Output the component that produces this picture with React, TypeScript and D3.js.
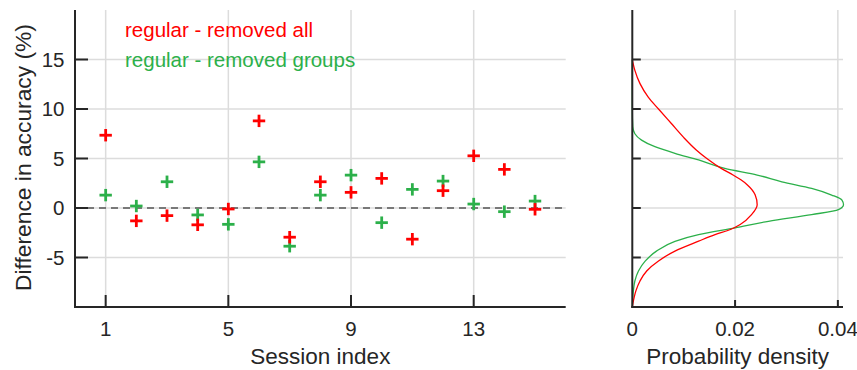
import React from "react";
import * as d3 from "d3";

const sessions = [1, 2, 3, 4, 5, 6, 7, 8, 9, 10, 11, 12, 13, 14, 15];
const removedAll = [7.35, -1.3, -0.77, -1.7, -0.1, 8.8, -2.95, 2.65, 1.58, 2.99, -3.15, 1.75, 5.27, 3.9, -0.13];
const removedGroups = [1.3, 0.2, 2.65, -0.7, -1.65, 4.66, -3.86, 1.3, 3.32, -1.48, 1.88, 2.72, 0.4, -0.37, 0.7];

const xTicks = [1, 5, 9, 13];
const yTicks = [-5, 0, 5, 10, 15];
const densTicks = [0, 0.02, 0.04];
const densTickLabels = ["0", "0.02", "0.04"];

const redDensLevel = [-10, -9.7, -8.37, -7.37, -6.36, -5.35, -4.35, -3.35, -2.69, -2.17, -1.67, -0.67, 0.33, 1.33, 2.33, 2.82, 3.33, 4.0, 5.0, 5.84, 7.18, 8.53, 10, 11.2, 12.56, 13.9, 15];
const redDensValue = [0, 0.0001, 0.0007, 0.0015, 0.0028, 0.0051, 0.0083, 0.0129, 0.0161, 0.0191, 0.021, 0.0232, 0.0243, 0.0239, 0.0224, 0.0212, 0.0196, 0.0173, 0.0145, 0.0125, 0.0099, 0.0076, 0.0051, 0.0031, 0.0015, 0.0005, 0];

const greenDensLevel = [-10, -8.4, -7.37, -6.37, -5.37, -4.36, -3.36, -2.69, -2.0, -1.34, -0.67, -0.17, 0.33, 0.8, 1.31, 1.98, 2.65, 3.33, 4.0, 4.85, 5.52, 6.19, 6.86, 7.5, 8.2, 10, 15];
const greenDensValue = [0, 0.0002, 0.0005, 0.0012, 0.0025, 0.0047, 0.0083, 0.0129, 0.02, 0.0265, 0.0349, 0.0401, 0.0411, 0.0408, 0.0388, 0.0349, 0.0291, 0.0243, 0.018, 0.0129, 0.0083, 0.0044, 0.0018, 0.0005, 0.0001, 0, 0];

const RED = "#ff0000";
const GREEN = "#2cb04a";
const AXIS = "#262626";
const GRID = "#dcdcdc";
const FONT = "'Liberation Sans', Arial, Helvetica, sans-serif";

export default function App() {
  const W = 857, H = 370;
  const top = 10, bottom = 307;
  const L = { x0: 75, x1: 565.7 };
  const R = { x0: 632.3, x1: 843 };

  const x = d3.scaleLinear().domain([0, 16]).range([L.x0, L.x1]);
  const y = d3.scaleLinear().domain([-10, 20]).range([bottom, top]);
  const xd = d3.scaleLinear().domain([0, 0.041]).range([R.x0, R.x1]);

  const lineGen = d3
    .line<[number, number]>()
    .x((d) => xd(d[1]))
    .y((d) => y(d[0]))
    .curve(d3.curveMonotoneY);

  const redPts: [number, number][] = redDensLevel.map((v, i) => [v, redDensValue[i]]);
  const greenPts: [number, number][] = greenDensLevel.map((v, i) => [v, greenDensValue[i]]);

  const plus = (cx: number, cy: number, color: string, key: string) => (
    <g key={key} stroke={color} strokeWidth={2.8}>
      <line x1={cx - 6.2} x2={cx + 6.2} y1={cy} y2={cy} />
      <line x1={cx} x2={cx} y1={cy - 6.2} y2={cy + 6.2} />
    </g>
  );

  return (
    <svg
      width={W}
      height={H}
      style={{ position: "absolute", left: 0, top: 0, background: "#fff" }}
      fontFamily={FONT}
    >
      <rect x={0} y={0} width={W} height={H} fill="#fff" />
      {/* Left panel grid */}
      <g stroke={GRID} strokeWidth={1.5}>
        {xTicks.map((t) => (
          <line key={"gx" + t} x1={x(t)} x2={x(t)} y1={top} y2={bottom} />
        ))}
        {yTicks.map((t) => (
          <line key={"gy" + t} x1={L.x0} x2={L.x1} y1={y(t)} y2={y(t)} />
        ))}
      </g>
      {/* zero dashed line */}
      <line x1={L.x0} x2={L.x1} y1={y(0)} y2={y(0)} stroke="#555" strokeWidth={1.6} strokeDasharray="7,5" />
      {/* markers */}
      {sessions.map((s, i) => plus(x(s), y(removedGroups[i]), GREEN, "g" + s))}
      {sessions.map((s, i) => plus(x(s), y(removedAll[i]), RED, "r" + s))}
      {/* axes */}
      <g stroke={AXIS} strokeWidth={2}>
        <line x1={L.x0} x2={L.x0} y1={top} y2={bottom + 1} />
        <line x1={L.x0 - 1} x2={L.x1} y1={bottom} y2={bottom} />
        {xTicks.map((t) => (
          <line key={"tx" + t} x1={x(t)} x2={x(t)} y1={bottom} y2={bottom - 12} />
        ))}
        {yTicks.map((t) => (
          <line key={"ty" + t} x1={L.x0} x2={L.x0 + 13} y1={y(t)} y2={y(t)} />
        ))}
      </g>
      <g fill={AXIS} fontSize={20.5}>
        {xTicks.map((t) => (
          <text key={"lx" + t} x={x(t)} y={335.5} textAnchor="middle">
            {t}
          </text>
        ))}
        {yTicks.map((t) => (
          <text key={"ly" + t} x={64.5} y={y(t)} dy="0.36em" textAnchor="end">
            {t}
          </text>
        ))}
      </g>
      <text x={(L.x0 + L.x1) / 2} y={364} textAnchor="middle" fontSize={22.5} fill={AXIS}>
        Session index
      </text>
      <text
        transform={`translate(${31},${157.5}) rotate(-90)`}
        textAnchor="middle"
        fontSize={22.8}
        fill={AXIS}
      >
        Difference in accuracy (%)
      </text>
      <text x={125} y={37.3} fontSize={20.5} fill={RED}>
        regular - removed all
      </text>
      <text x={125} y={67.3} fontSize={20.5} fill={GREEN}>
        regular - removed groups
      </text>

      {/* Right panel grid */}
      <g stroke={GRID} strokeWidth={1.5}>
        {densTicks.slice(1).map((t) => (
          <line key={"rgx" + t} x1={xd(t)} x2={xd(t)} y1={top} y2={bottom} />
        ))}
        {yTicks.map((t) => (
          <line key={"rgy" + t} x1={R.x0} x2={R.x1} y1={y(t)} y2={y(t)} />
        ))}
      </g>
      <path d={lineGen(greenPts) || ""} fill="none" stroke={GREEN} strokeWidth={1.3} />
      <path d={lineGen(redPts) || ""} fill="none" stroke={RED} strokeWidth={1.3} />
      <g stroke={AXIS} strokeWidth={2}>
        <line x1={R.x0} x2={R.x0} y1={top} y2={bottom + 1} />
        <line x1={R.x0 - 1} x2={R.x1} y1={bottom} y2={bottom} />
        {densTicks.slice(1).map((t) => (
          <line key={"rtx" + t} x1={xd(t)} x2={xd(t)} y1={bottom} y2={bottom - 7} />
        ))}
        {yTicks.map((t) => (
          <line key={"rty" + t} x1={R.x0} x2={R.x0 + 8.5} y1={y(t)} y2={y(t)} />
        ))}
      </g>
      <g fill={AXIS} fontSize={20.5}>
        {densTicks.map((t, i) => (
          <text key={"rlx" + t} x={xd(t)} y={335.5} textAnchor="middle">
            {densTickLabels[i]}
          </text>
        ))}
      </g>
      <text x={(R.x0 + R.x1) / 2} y={364} textAnchor="middle" fontSize={22.5} fill={AXIS}>
        Probability density
      </text>
    </svg>
  );
}
